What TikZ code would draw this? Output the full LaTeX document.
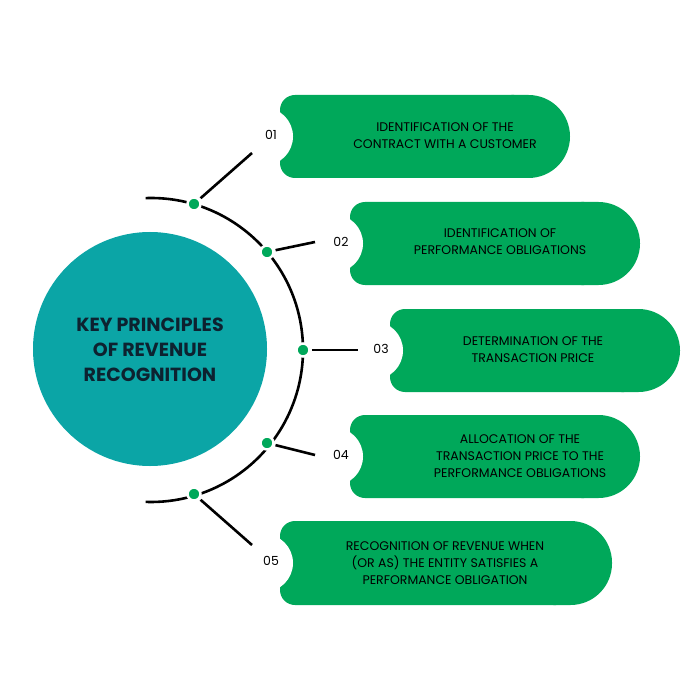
\documentclass[tikz,border=0pt]{standalone}
\usepackage{fontspec}
\setmainfont{Poppins}
\begin{document}
\begin{tikzpicture}[x=1pt,y=-1pt]
\definecolor{gr}{HTML}{00A85A}
\definecolor{tl}{HTML}{0BA5A6}
\definecolor{tt}{HTML}{0D2230}
\tikzset{btxt/.style={align=center,font=\fontsize{12.5}{17}\selectfont,text=black},
num/.style={font=\fontsize{12.5}{15}\selectfont,text=black},
ln/.style={line width=2.6pt,black},
dotn/.style={circle,fill=gr,draw=white,line width=2.5pt,inner sep=0pt,minimum size=13pt}}
\useasboundingbox[fill=white] (0,0) rectangle (700,700);
\newcommand{\pill}[5]{%
 \fill[gr,rounded corners=15pt] (#3-41,#2) -- (#1,#2) -- (#1,#4) -- (#3-41,#4) -- cycle;
 \fill[gr,rounded corners=41.5pt] (#3-100,#2) rectangle (#3,#4);
 \fill[white] (#1-16,#2*0.5+#4*0.5) circle (29);
 \node[num] (#5) at (#1-9,#2*0.5+#4*0.5-2) {0#5};}
\pill{280}{95}{570}{178}{1}
\pill{350}{202}{640}{285}{2}
\pill{390}{309}{680}{392}{3}
\pill{350}{415}{640}{498}{4}
\pill{280}{521}{612}{605}{5}
\node[btxt] (t1) at (445,136) {IDENTIFICATION OF THE\\CONTRACT WITH A CUSTOMER};
\node[btxt] (t2) at (500,242) {IDENTIFICATION OF\\PERFORMANCE OBLIGATIONS};
\node[btxt] (t3) at (533,350) {DETERMINATION OF THE\\TRANSACTION PRICE};
\node[btxt] (t4) at (520,456) {ALLOCATION OF THE\\TRANSACTION PRICE TO THE\\PERFORMANCE OBLIGATIONS};
\node[btxt] (t5) at (445,563) {RECOGNITION OF REVENUE WHEN\\(OR AS) THE ENTITY SATISFIES A\\PERFORMANCE OBLIGATION};
\node[circle,fill=tl,minimum size=234pt,inner sep=0pt] (c) at (150,349) {};
\node[align=center,text=tt,font=\fontsize{19}{25}\selectfont\bfseries] (ct) at (150,350) {KEY PRINCIPLES\\OF REVENUE\\RECOGNITION};
\draw[line width=2.6pt] (151,350) ++(-92:152) arc (-92:92:152);
\coordinate (e1) at (252,153); \coordinate (e2) at (315,242); \coordinate (e3) at (358,350);
\coordinate (e4) at (315,455); \coordinate (e5) at (252,545);
\node[dotn] (d1) at (194,204) {}; \node[dotn] (d2) at (267,252) {};
\node[dotn] (d3) at (303,350) {}; \node[dotn] (d4) at (267,443) {};
\node[dotn] (d5) at (194,494) {};
\foreach \i in {1,...,5}{\draw[ln,shorten <=1pt] (d\i) -- (e\i);}
\end{tikzpicture}
\end{document}
